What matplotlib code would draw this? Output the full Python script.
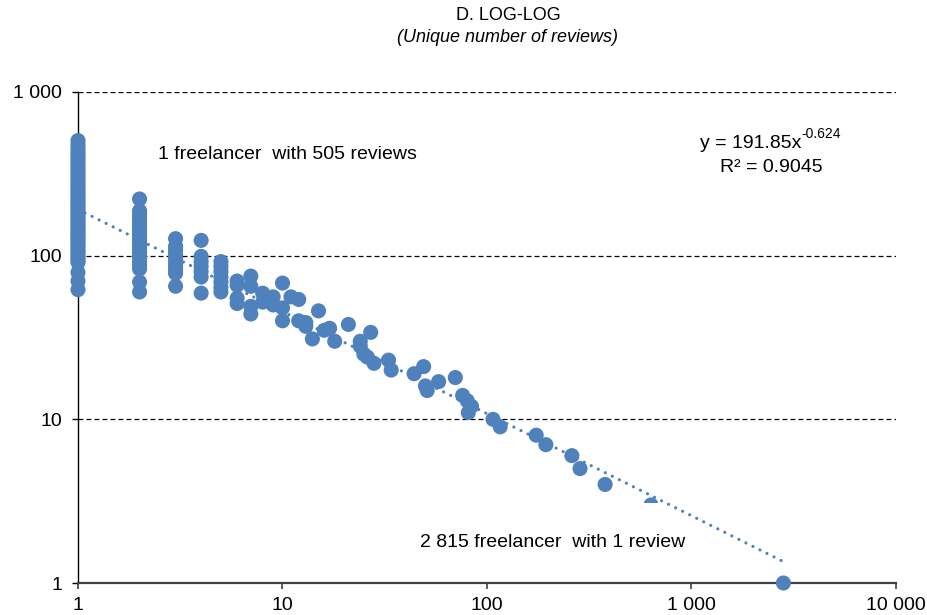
import matplotlib
matplotlib.use("Agg")
import matplotlib.pyplot as plt
from matplotlib.patches import Rectangle
from matplotlib.ticker import FixedLocator, NullLocator
import numpy as np

plt.rcParams['font.family'] = ['Liberation Sans', 'DejaVu Sans']

# Distinct review counts, grouped by how many freelancers share them
reviews_by_1 = [505, 478, 455, 434, 415, 398, 381, 365, 350, 336, 322, 309, 297,
                286, 275, 265, 255, 246, 237, 228, 220, 212, 205, 198, 191, 184,
                178, 172, 166, 160, 155, 150, 145, 140, 135, 131, 127, 123, 119,
                115, 111, 107, 104, 100, 97, 94, 91, 79, 70, 62]
reviews_by_2 = [222, 188, 180, 172, 164, 157, 150, 143, 137, 131, 125, 119, 114,
                109, 104, 99, 95, 91, 87, 83, 69, 60]
reviews_by_3 = [127, 114, 108, 102, 96, 91, 86, 82, 78, 65]
reviews_by_4 = [124, 99, 92, 86, 80, 74, 59]
reviews_by_5 = [92, 86, 80, 74, 69, 64, 60]

# Remaining (freelancers, reviews) pairs
tail_freelancers = [6, 6, 6, 6,
                    7, 7, 7, 7,
                    8, 8,
                    9, 9,
                    10, 10, 10,
                    11,
                    12, 12,
                    13, 13,
                    14, 15, 16, 17, 18, 21,
                    24, 24, 25, 26, 27, 28,
                    33, 34, 44, 49, 50, 51, 58, 70,
                    76, 80, 84, 81, 107, 116,
                    174, 194, 260, 285, 378, 634, 2815]
tail_reviews = [70, 66, 55, 51,
                75, 65, 49, 44,
                59, 52,
                56, 50,
                68, 48, 40,
                56,
                54, 40,
                39, 37,
                31, 46, 35, 36, 30, 38,
                30, 28, 25, 24, 34, 22,
                23, 20, 19, 21, 16, 15, 17, 18,
                14, 13, 12, 11, 10, 9,
                8, 7, 6, 5, 4, 3, 1]

# Power-law fit
fit_coef = 191.85
fit_exp = -0.624
fit_r2 = 0.9045

x_ticks = [1, 10, 100, 1000, 10000]
x_tick_labels = ["1", "10", "100", "1 000", "10 000"]
y_ticks = [1, 10, 100, 1000]
y_tick_labels = ["1", "10", "100", "1 000"]

blue = "#4F81BD"

fig = plt.figure(figsize=(9.28, 6.15), dpi=100)
ax = fig.add_axes([78 / 928, 32 / 615, 818 / 928, 491 / 615])

xs, ys = [], []
for n, group in [(1, reviews_by_1), (2, reviews_by_2), (3, reviews_by_3),
                 (4, reviews_by_4), (5, reviews_by_5)]:
    xs += [n] * len(group)
    ys += group
xs += tail_freelancers
ys += tail_reviews

ax.scatter(xs, ys, s=118, color=blue, edgecolors='none', zorder=4, clip_on=False)

ax.set_xscale('log')
ax.set_yscale('log')
ax.set_xlim(1, 10000)
ax.set_ylim(1, 1000)

# Trend line
xf = np.logspace(0, np.log10(max(tail_freelancers)), 300)
ax.plot(xf, fit_coef * xf ** fit_exp, color=blue, lw=2.3,
        linestyle=(0, (0.01, 2.45)), dash_capstyle='round', zorder=6)

ax.xaxis.set_major_locator(FixedLocator(x_ticks))
ax.yaxis.set_major_locator(FixedLocator(y_ticks))
ax.xaxis.set_minor_locator(NullLocator())
ax.yaxis.set_minor_locator(NullLocator())
ax.set_xticklabels(x_tick_labels)
ax.set_yticklabels(y_tick_labels)
ax.tick_params(axis='x', which='major', direction='out', length=4, width=1.2,
               color='#404040', labelsize=14, pad=6)
ax.tick_params(axis='y', which='major', direction='out', length=4.5, width=1,
               color='black', labelsize=14, pad=7)

ax.yaxis.grid(True, which='major', color='black', lw=0.9,
              linestyle=(0, (4, 2.4)))
ax.set_axisbelow(True)

for side in ('top', 'right'):
    ax.spines[side].set_visible(False)
ax.spines['left'].set_color('black')
ax.spines['left'].set_linewidth(1.0)
ax.spines['bottom'].set_color('#404040')
ax.spines['bottom'].set_linewidth(1.6)

# Annotation box
ax.add_patch(Rectangle((0.412, 0.045), 0.355, 0.118, transform=ax.transAxes,
                       facecolor='white', edgecolor='none', zorder=4.5))
ax.text(0.418, 0.0835, "2 815 freelancer  with 1 review", transform=ax.transAxes,
        fontsize=14, ha='left', va='center', zorder=5)
ax.text(0.0978, 0.8717, "1 freelancer  with 505 reviews", transform=ax.transAxes,
        fontsize=14, ha='left', va='center', zorder=5)

eq = ax.text(0.760, 0.896, f"y = {fit_coef:.2f}x", transform=ax.transAxes,
             fontsize=14, ha='left', va='center', zorder=5)
ax.annotate(f"{fit_exp:.3f}".replace("\u2212", "-"), xy=(1.0, 0.62),
            xycoords=eq, fontsize=10, ha='left', va='bottom', zorder=5)
ax.text(0.847, 0.847, f"R\u00b2 = {fit_r2:.4f}", transform=ax.transAxes,
        fontsize=14, ha='center', va='center', zorder=5)

fig.text(508 / 928, 1 - 15 / 615, "D. LOG-LOG", fontsize=13, ha='center', va='center')
fig.text(508 / 928, 1 - 38 / 615, "(Unique number of reviews)", fontsize=13,
         style='italic', ha='center', va='center')

fig.savefig("out.png", dpi=100)
